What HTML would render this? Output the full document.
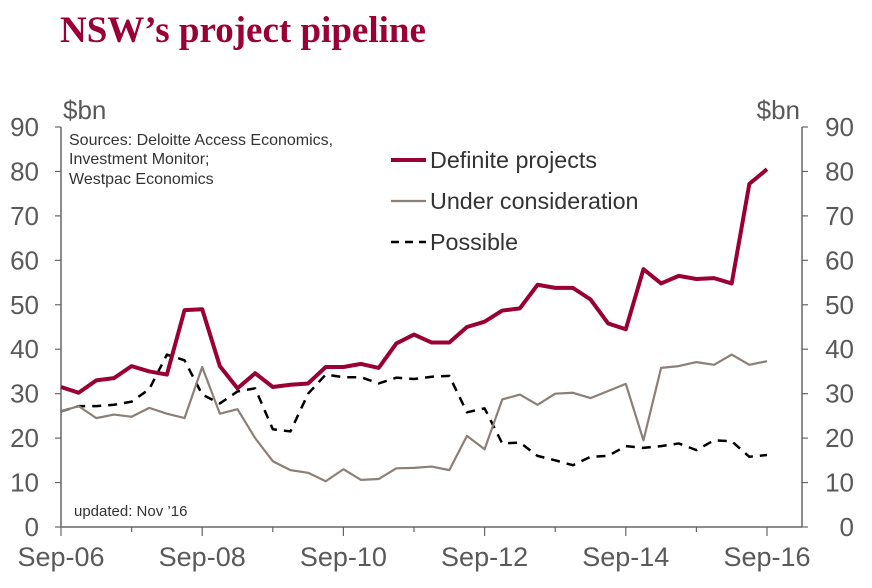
<!DOCTYPE html>
<html><head><meta charset="utf-8"><style>
body{margin:0;background:#fff;width:872px;height:583px;overflow:hidden;font-family:"Liberation Sans",sans-serif}
svg text{font-family:"Liberation Sans",sans-serif}
</style></head><body>
<svg width="872" height="583">
<text x="60" y="42" font-weight="bold" font-size="37" fill="#9a0036" style="font-family:'Liberation Serif',serif">NSW’s project pipeline</text>
<g id="axes"></g>
<g id="series"></g>
<text x="69" y="145" font-size="16" fill="#333">Sources: Deloitte Access Economics,</text>
<text x="69" y="164" font-size="16" fill="#333">Investment Monitor;</text>
<text x="69" y="184" font-size="16" fill="#333">Westpac Economics</text>
<text x="74" y="516" font-size="15" fill="#333">updated:  Nov ’16</text>
<g>
<line x1="391" y1="160" x2="426" y2="160" stroke="#9a0036" stroke-width="4"/>
<text x="430" y="168" font-size="23.3" fill="#333">Definite projects</text>
<line x1="391" y1="201" x2="426" y2="201" stroke="#8c7f78" stroke-width="2.2"/>
<text x="430" y="209" font-size="23.3" fill="#333">Under consideration</text>
<line x1="391" y1="242" x2="426" y2="242" stroke="#000" stroke-width="2.5" stroke-dasharray="8,6"/>
<text x="430" y="250" font-size="23.3" fill="#333">Possible</text>
</g>
</svg>
<script>
const definite=[31.5,30.2,33,33.5,36.2,35,34.3,48.8,49,36.2,31.2,34.6,31.5,32,32.3,36,36,36.7,35.8,41.3,43.3,41.5,41.5,45,46.2,48.7,49.2,54.5,53.8,53.8,51.2,45.8,44.5,58,54.8,56.5,55.8,56,54.8,77.2,80.5];
const underConsideration=[26,27.2,24.5,25.3,24.8,26.8,25.5,24.5,36,25.5,26.5,20,14.8,12.8,12.2,10.3,13,10.6,10.8,13.2,13.3,13.6,12.8,20.5,17.5,28.7,29.8,27.5,30,30.2,29,30.6,32.2,19.5,35.8,36.2,37.1,36.5,38.8,36.5,37.3];
const possible=[26,27.2,27.2,27.5,28.2,31,38.8,37.5,29.8,27.8,30.5,31.2,22,21.5,30,34.3,33.7,33.7,32.3,33.6,33.3,33.8,34,25.8,26.7,18.8,19,16,15,13.9,15.8,16,18.2,17.8,18.2,18.8,17.3,19.5,19.3,15.8,16.2];
const xLabels=["Sep-06","Sep-08","Sep-10","Sep-12","Sep-14","Sep-16"];
const yTicks=[0,10,20,30,40,50,60,70,80,90];
const NS="http://www.w3.org/2000/svg";
const x0=61,x1=802,y0=527,qw=17.65;
const X=i=>x0+i*qw;
const Y=v=>y0-v*(400/90);
const ax=document.getElementById('axes'),se=document.getElementById('series');
function mk(tag,attrs,parent){const e=document.createElementNS(NS,tag);for(const k in attrs)e.setAttribute(k,attrs[k]);parent.appendChild(e);return e;}
let l=mk('line',{x1:x0,y1:127,x2:x0,y2:y0,stroke:'#666','stroke-width':1.5},ax);


l=mk('line',{x1:x1,y1:127,x2:x1,y2:y0,stroke:'#666','stroke-width':1.5},ax);


l=mk('line',{x1:x0,y1:y0,x2:x1,y2:y0,stroke:'#666','stroke-width':1.5},ax);


yTicks.forEach(v=>{
 mk('line',{x1:x0-6,y1:Y(v),x2:x0,y2:Y(v),stroke:'#666','stroke-width':1.2},ax);
 mk('line',{x1:x1,y1:Y(v),x2:x1+6,y2:Y(v),stroke:'#666','stroke-width':1.2},ax);
 let t=mk('text',{x:39,y:Y(v)+9,'text-anchor':'end','font-size':26,fill:'#595959'},ax);t.textContent=v;
 
 
 t=mk('text',{x:854,y:Y(v)+9,'text-anchor':'end','font-size':26,fill:'#595959'},ax);t.textContent=v;
 
 
});
for(let k=0;k<=10;k++){mk('line',{x1:X(k*4),y1:y0,x2:X(k*4),y2:y0+(k%2?5:9),stroke:'#666','stroke-width':1.2},ax);}
xLabels.forEach((s,k)=>{const t=mk('text',{x:X(k*8),y:566,'text-anchor':'middle','font-size':27,fill:'#595959'},ax);t.textContent=s;
 
 });
let t=mk('text',{x:63,y:119,'font-size':26,fill:'#595959'},ax);t.textContent='$bn';


t=mk('text',{x:800,y:119,'text-anchor':'end','font-size':26,fill:'#595959'},ax);t.textContent='$bn';


function line(arr,attrs,name){const p=mk('polyline',Object.assign({points:arr.map((v,i)=>X(i)+','+Y(v)).join(' '),fill:'none','stroke-linejoin':'round'},attrs),se);
 
 }
line(possible,{stroke:'#000','stroke-width':2.5,'stroke-dasharray':'9,7'},'possible-line');
line(underConsideration,{stroke:'#8c7f78','stroke-width':2.2},'under-consideration-line');
line(definite,{stroke:'#9a0036','stroke-width':4},'definite-projects-line');
</script>
</body></html>
